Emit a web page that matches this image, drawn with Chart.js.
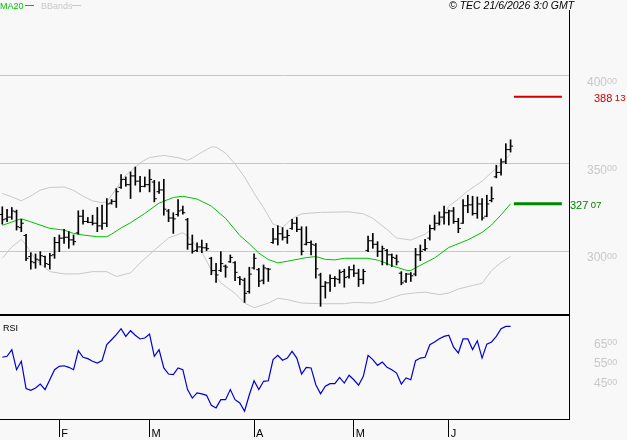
<!DOCTYPE html>
<html>
<head>
<meta charset="utf-8">
<script src="https://cdn.jsdelivr.net/npm/chart.js@4"></script>
<style>
  html, body { margin: 0; padding: 0; background: #f8f8f8; }
  #wrap { position: relative; width: 627px; height: 440px; overflow: hidden; }
  #price-box { position: absolute; left: 0; top: 0; width: 627px; height: 316px; }
  #rsi-box { position: absolute; left: 0; top: 316px; width: 627px; height: 124px; }
</style>
</head>
<body>
<div id="wrap">
  <div id="price-box"><canvas id="priceChart"></canvas></div>
  <div id="rsi-box"><canvas id="rsiChart"></canvas></div>
</div>
<script>
// Daily bars, index 0 = mid January, last = 18 June
const opens = [
  321, 318.5, 319.5, 322.5, 313.5, 309, 297, 293.5, 295, 297,
  292.5, 298, 305, 307.5, 308, 306.5, 310.5, 320, 317, 316.5,
  316, 314.5, 316, 327.5, 328.5, 336.5, 341, 338, 343, 340,
  337, 338, 339.5, 334, 335, 323, 319, 321, 323.5, 318,
  304, 300.5, 302.5, 302, 296, 289, 289, 291.5, 294, 293.5,
  285, 283.5, 277, 290.5, 289.5, 283.5, 290, 305, 307, 310,
  308, 313, 316, 312.5, 304, 305, 303.5, 286.5, 280, 282,
  284.5, 284, 288.5, 285.5, 289.5, 287.5, 284, 300.5, 306, 304,
  300, 300.5, 298, 296, 287.5, 283, 287, 287, 298, 301,
  307.5, 313, 316, 319.5, 322, 323, 317, 316, 326, 326.5,
  321.5, 327, 320, 329, 342.5, 345, 351, 358
];
const highs = [
  325.4, 323.9, 325.0, 323.5, 318.2, 309.7, 299.2, 298.5, 299.8, 297.3,
  298.9, 308.0, 309.3, 312.5, 311.2, 309.3, 323.1, 323.5, 319.3, 320.6,
  325.0, 326.3, 330.1, 329.5, 335.8, 343.8, 342.4, 345.3, 348.1, 342.8,
  342.4, 346.6, 340.5, 339.6, 341.1, 323.9, 322.0, 329.5, 325.8, 318.8,
  309.3, 304.9, 306.4, 304.5, 296.6, 293.2, 299.8, 292.2, 297.9, 294.1,
  285.6, 284.7, 290.9, 298.5, 290.3, 292.2, 290.3, 313.1, 314.6, 313.5,
  312.1, 318.2, 319.3, 314.0, 314.0, 306.0, 304.5, 287.5, 282.8, 286.6,
  285.6, 289.4, 289.8, 291.3, 292.2, 289.8, 289.8, 308.7, 310.2, 305.5,
  303.0, 301.1, 298.5, 297.9, 288.4, 287.5, 287.9, 301.7, 303.6, 306.8,
  315.0, 320.6, 322.5, 325.8, 323.5, 325.0, 318.8, 329.5, 332.0, 331.4,
  331.0, 330.1, 332.0, 336.7, 349.1, 352.8, 361.4, 363.6
];
const lows = [
  315.5, 316.9, 318.2, 312.1, 311.2, 294.7, 289.8, 290.3, 292.2, 290.9,
  289.8, 296.0, 299.8, 304.5, 301.7, 303.6, 309.8, 315.5, 316.3, 315.0,
  311.2, 312.5, 314.0, 326.9, 325.0, 335.8, 337.1, 330.1, 337.7, 333.9,
  336.7, 333.9, 328.2, 333.0, 320.6, 316.9, 310.2, 320.1, 321.2, 301.1,
  298.9, 299.8, 299.2, 300.4, 286.6, 282.2, 288.4, 285.2, 293.6, 283.3,
  280.9, 270.8, 276.1, 289.8, 279.9, 281.4, 282.8, 304.5, 303.6, 306.4,
  304.5, 312.5, 311.2, 297.9, 303.6, 297.9, 284.7, 268.6, 273.3, 277.1,
  279.9, 281.8, 279.5, 284.7, 285.6, 279.9, 281.4, 299.8, 301.7, 297.0,
  292.2, 292.2, 291.3, 292.2, 280.9, 282.2, 282.8, 286.0, 294.7, 300.4,
  306.4, 312.1, 315.0, 315.5, 315.0, 315.9, 310.6, 315.9, 322.0, 320.6,
  318.8, 317.8, 319.7, 328.2, 341.9, 343.4, 350.0, 356.6
];
const closes = [
  318, 319.5, 323, 314, 316, 296, 294, 295.5, 297.5, 293,
  297.5, 305, 307.5, 308, 306.5, 305.5, 320, 317, 316.5, 316,
  314.5, 316, 327, 328.5, 334, 341, 338, 343, 340, 337,
  338, 341, 330, 335, 324, 319, 318.5, 323, 322, 304,
  300, 302.5, 302, 301.5, 289, 286.5, 293, 291, 296.5, 288,
  284, 276, 287, 296, 283, 290.5, 289.8, 307, 310, 308,
  309, 316, 312.5, 300, 305, 304, 290, 280, 282, 284.5,
  284.3, 288, 285, 289.5, 287.5, 284, 288.5, 306, 304, 300,
  301.5, 298, 296.5, 294, 282, 287, 286, 298, 300, 301.5,
  313, 316, 319.5, 322, 323, 317, 313, 326, 326.5, 321.5,
  327, 319, 327, 330, 345, 351, 358, 360
];

// MA20 and Bollinger bands, read at these bar indexes
const ma20Idx = [0, 4, 6, 10, 13, 15, 17, 20, 22, 23, 25, 27, 30, 33, 36, 38, 41, 44, 47, 50,
  52, 54, 56, 58, 60, 64, 66, 68, 70, 72, 77, 79, 81, 82, 85, 86, 87, 91, 94, 98,
  101, 103, 105, 107];
const ma20 = [314.8, 318.6, 316.8, 313.1, 312.1, 310.2, 309.3, 308.3, 308.3, 309.8, 313.3, 316.3, 321.6, 327.5, 330.7, 331.4, 329.8, 325.8, 318.8, 309,
  304.3, 299, 295.3, 293.4, 294.3, 296.4, 297, 295.4, 295.1, 296, 296, 295, 293, 291.8, 289.2, 289, 290.6, 296.2, 302.2, 306.5,
  310.8, 315, 320.8, 327.07];

const bbUpIdx = [0, 2, 4, 6, 8, 10, 13, 15, 17, 19, 21, 22, 23, 25, 26, 27, 29, 31, 34, 37,
  39, 40, 42, 44, 45, 47, 49, 51, 53, 54, 55, 57, 59, 61, 63, 67, 73, 76, 78, 81,
  83, 86, 89, 92, 94, 96, 98, 101, 103, 105, 107];
const bbUp = [333, 331.1, 328.8, 331.6, 334.9, 336.4, 336.7, 334.8, 331.4, 328.8, 327.7, 328.2, 332, 339.5, 343.5, 345.5, 350.5, 353.5, 354.7, 353.4,
  351.9, 353.2, 356.5, 359.5, 359.5, 356, 349.8, 342.4, 333.2, 329, 325, 315.5, 313.6, 318.6, 321.4, 322.2, 322.5, 321.4, 318.8, 312.4,
  307.6, 306.4, 309.8, 315.6, 325.8, 329.8, 334.4, 340, 345, 349.8, 355.5];

const bbLowIdx = [0, 2, 4, 5, 7, 10, 13, 16, 19, 22, 24, 27, 29, 32, 35, 38, 39, 42, 44, 46,
  49, 51, 53, 56, 58, 60, 63, 67, 72, 74, 78, 80, 84, 87, 89, 92, 94, 96, 99, 101,
  103, 105, 107];
const bbLow = [296, 302.5, 306.8, 303.6, 295.3, 288.4, 287.1, 287.1, 288.4, 288.4, 285.6, 287.7, 293.3, 300.6, 307.6, 310.6, 308.7, 299.6, 289.4, 282,
  276, 270.5, 267.8, 270.4, 273.2, 272.4, 270.5, 270.1, 270.1, 270.8, 270.5, 271.6, 275.3, 276.3, 276.7, 275.3, 276.2, 278.5, 280.5, 281.7,
  289, 293.6, 297];

// RSI, one value per bar
const rsi = [
  57.9, 58.4, 61.8, 51.6, 55.9, 42, 41.1, 42.3, 44.3, 41.5,
  46.5, 51.6, 53.3, 53.6, 52.8, 51.6, 61.3, 57.9, 57.2, 55.9,
  55, 56.2, 64.3, 66.8, 69.4, 72.4, 68.5, 71.4, 69.1, 67.2,
  67.7, 69.7, 58.4, 61.8, 52.5, 49.4, 49.1, 52.5, 51.6, 41.5,
  37.2, 39.8, 39.3, 38.6, 33.5, 32.2, 36.4, 36.4, 41.5, 36.4,
  34.7, 30.5, 38.9, 46, 41.5, 45.7, 46, 56.7, 58.9, 56.4,
  57.5, 60.9, 57.5, 49.4, 52.8, 52.5, 44, 39.4, 43.2, 44.5,
  44.5, 47.7, 44.8, 48.8, 46.5, 43.7, 48.2, 58.9, 56.7, 53.8,
  55.5, 52.8, 51.6, 49.9, 44.3, 47.4, 46.5, 56.2, 57.5, 57.9,
  64.3, 65.7, 67.3, 68.5, 69.1, 63, 60.1, 67.2, 67.2, 61.8,
  66.3, 57.5, 64.6, 65.7, 68.5, 72.4, 73.6, 73.6
];

// first bar of each month
const monthIdx = [12, 31, 53, 74, 94];
const monthLabels = ["F", "M", "A", "M", "J"];

const priceTicks = [300, 350, 400];
const rsiTicks = [45, 55, 65];

// resistance / MA20 levels shown right of the bars
const levels = [388.13, 327.07];

Chart.defaults.font.family = "'Liberation Sans', Arial, sans-serif";

const X_MIN = -0.484, X_MAX = 119.3;
const FONT = "'Liberation Sans', Arial, sans-serif";

const pts = (xs, ys) => xs.map((x, i) => ({ x: x, y: ys[i] }));

// big digits with small raised decimals, like "400⁰⁰"
function supLabel(ctx, main, sup, x, baseMain, baseSup, color, mainSize, supSize, gap) {
    ctx.fillStyle = color;
    ctx.font = mainSize + "px " + FONT;
    ctx.fillText(main, x, baseMain);
    const w = ctx.measureText(main).width;
    ctx.font = supSize + "px " + FONT;
    ctx.fillText(sup, x + w + (gap || 0), baseSup);
}

const priceText = {
    id: "priceText",
    afterDraw(chart) {
        const ctx = chart.ctx;
        const y = chart.scales.y;
        ctx.save();
        ctx.textBaseline = "alphabetic";
        ctx.textAlign = "left";

        // legend
        ctx.font = "9px " + FONT;
        ctx.fillStyle = "#00c000";
        ctx.fillText("MA20", 0, 9);
        ctx.fillRect(25, 5, 9, 1);
        ctx.fillStyle = "#c8c8c8";
        ctx.fillText("BBands", 41, 9);
        ctx.fillRect(72, 5, 9, 1);

        ctx.fillStyle = "#000";
        ctx.font = "italic 10.5px " + FONT;
        ctx.fillText("\u00a9 TEC 21/6/2026 3:0 GMT", 449, 9);

        // price labels
        priceTicks.forEach(v => {
            const py = y.getPixelForValue(v);
            supLabel(ctx, String(v), "00", 587, py + 10, py + 7.7, "#c8c8c8", 12, 9);
        });

        // level labels
        const lx = [594, 570];
        const lc = ["#cc0000", "#008000"];
        levels.forEach((v, i) => {
            const py = y.getPixelForValue(v);
            const parts = v.toFixed(2).split(".");
            supLabel(ctx, parts[0], parts[1], lx[i], py + 5, py + 4.5, lc[i], 11, 9.5, 2.5);
        });
        ctx.restore();
    }
};

const rsiText = {
    id: "rsiText",
    afterDraw(chart) {
        const ctx = chart.ctx;
        const y = chart.scales.y;
        ctx.save();
        ctx.textBaseline = "alphabetic";
        ctx.fillStyle = "#000";
        ctx.font = "9px " + FONT;
        ctx.fillText("RSI", 3, 15);
        rsiTicks.forEach(v => {
            const py = y.getPixelForValue(v);
            supLabel(ctx, String(v), "00", 594, py + 4.3, py + 2.1, "#c8c8c8", 12, 9);
        });
        ctx.restore();
    }
};

const bars = lows.map((l, i) => ({ x: i, y: [l, highs[i]] }));
const openPts = opens.map((v, i) => ({ x: i - 0.28, y: v }));
const closePts = closes.map((v, i) => ({ x: i + 0.28, y: v }));

const lineDs = (label, data, color, width) => ({
    type: "line",
    label: label,
    data: data,
    borderColor: color,
    borderWidth: width,
    pointRadius: 0,
    tension: 0,
    fill: false
});

const tickDs = (data) => ({
    type: "line",
    data: data,
    showLine: false,
    pointStyle: "line",
    pointRadius: 1.2,
    pointBorderWidth: 1,
    pointBorderColor: "#000",
    pointBackgroundColor: "#000"
});

new Chart(document.getElementById("priceChart"), {
    type: "bar",
    data: {
        datasets: [
            {
                type: "bar",
                data: bars,
                backgroundColor: "#000",
                borderWidth: 0,
                barThickness: 1,
                grouped: false
            },
            tickDs(openPts),
            tickDs(closePts),
            lineDs("L1", [{ x: 107.7, y: levels[0] }, { x: 117.8, y: levels[0] }], "#cc0000", 2),
            lineDs("L2", [{ x: 107.7, y: levels[1] }, { x: 117.8, y: levels[1] }], "#008800", 3),
            lineDs("MA20", pts(ma20Idx, ma20), "#00c000", 1),
            lineDs("BBup", pts(bbUpIdx, bbUp), "#c8c8c8", 1),
            lineDs("BBlow", pts(bbLowIdx, bbLow), "#c8c8c8", 1)
        ]
    },
    options: {
        responsive: true,
        maintainAspectRatio: false,
        animation: false,
        events: [],
        layout: { autoPadding: false, padding: { top: 10, left: 0, right: 0, bottom: 0 } },
        plugins: { legend: { display: false }, tooltip: { enabled: false } },
        scales: {
            x: {
                type: "linear",
                min: X_MIN,
                max: X_MAX,
                offset: false,
                bounds: "data",
                ticks: { display: false },
                grid: { display: false, offset: false },
                border: { display: true, color: "#000", width: 2 },
                afterFit: s => { s.height = 1; }
            },
            y: {
                position: "right",
                min: 263.66,
                max: 437.65,
                bounds: "data",
                afterBuildTicks: s => { s.ticks = priceTicks.map(v => ({ value: v })); },
                ticks: { display: false },
                grid: { color: "#c8c8c8", drawTicks: false },
                border: { color: "#000", width: 1 },
                afterFit: s => { s.width = 58; }
            }
        }
    },
    plugins: [priceText]
});

new Chart(document.getElementById("rsiChart"), {
    type: "line",
    data: {
        datasets: [{
            data: rsi.map((v, i) => ({ x: i, y: v })),
            borderColor: "#0000d0",
            borderWidth: 1.2,
            pointRadius: 0,
            tension: 0,
            fill: false
        }]
    },
    options: {
        responsive: true,
        maintainAspectRatio: false,
        animation: false,
        events: [],
        layout: { autoPadding: false, padding: 0 },
        plugins: { legend: { display: false }, tooltip: { enabled: false } },
        scales: {
            x: {
                type: "linear",
                min: X_MIN,
                max: X_MAX,
                bounds: "data",
                afterBuildTicks: s => { s.ticks = monthIdx.map(v => ({ value: v })); },
                ticks: {
                    callback: v => monthLabels[monthIdx.indexOf(v)],
                    align: "start",
                    labelOffset: 2,
                    padding: -10,
                    maxRotation: 0,
                    autoSkip: false,
                    color: "#000",
                    font: { size: 11 }
                },
                grid: { drawOnChartArea: false, drawTicks: true, tickLength: 18, color: "#000" },
                border: { color: "#000", width: 1 },
                afterFit: s => { s.height = 21; }
            },
            y: {
                position: "right",
                min: 26.57,
                max: 78.86,
                bounds: "data",
                ticks: { display: false },
                grid: { display: false },
                border: { color: "#000", width: 1 },
                afterFit: s => { s.width = 58; }
            }
        }
    },
    plugins: [rsiText]
});
</script>
</body>
</html>
